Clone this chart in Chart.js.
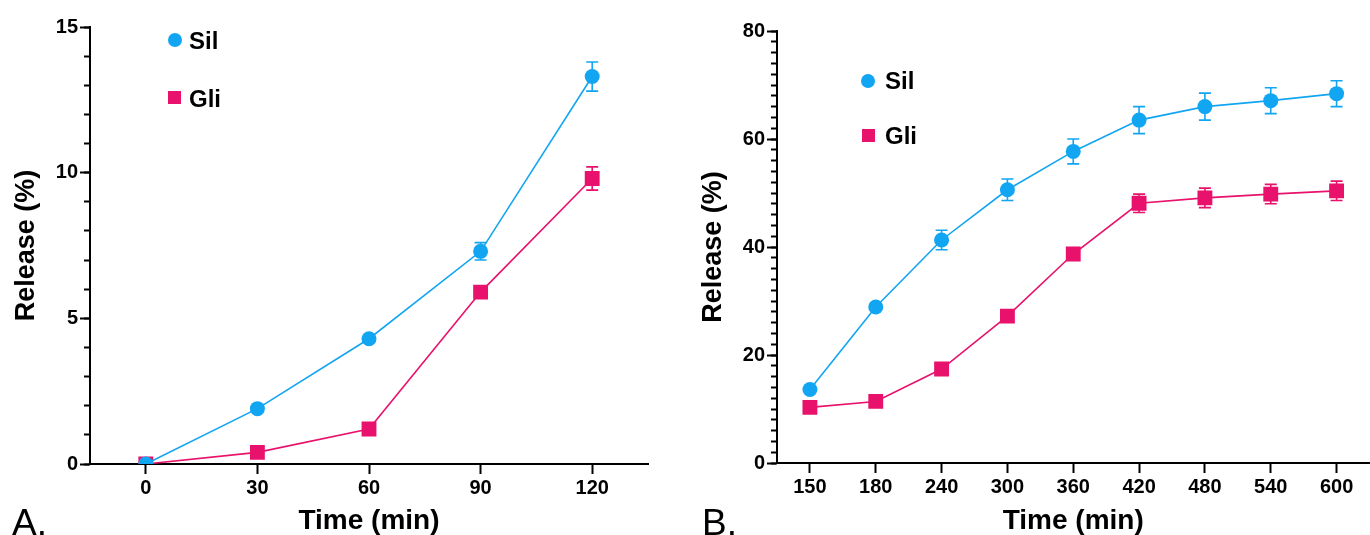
<!DOCTYPE html>
<html>
<head>
<meta charset="utf-8">
<script src="https://cdn.jsdelivr.net/npm/chart.js@4/dist/chart.umd.min.js"></script>
<style>
  body { margin: 0; width: 1370px; height: 535px; overflow: hidden; position: relative; background: #fff;
         font-family: 'Liberation Sans', Arial, sans-serif; }
  .panel { position: absolute; top: 0; height: 535px; width: 690px; }
  .lg { position: absolute; font-weight: bold; font-size: 24px; line-height: 24px; color: #000; }
  .mk { position: absolute; }
  .tag { position: absolute; font-size: 37px; line-height: 37px; color: #000; }
</style>
</head>
<body>
<div class="panel" style="left:0"><canvas id="chartA" width="690" height="535"></canvas></div>
<div class="panel" style="left:690px"><canvas id="chartB" width="690" height="535"></canvas></div>

<!-- legends -->
<div class="mk" style="left:168px;top:33px;width:14px;height:14px;border-radius:50%;background:#12a5f2"></div>
<div class="lg" style="left:189px;top:29px">Sil</div>
<div class="mk" style="left:168px;top:91px;width:13px;height:13px;background:#e8116b"></div>
<div class="lg" style="left:189px;top:87px">Gli</div>

<div class="mk" style="left:861px;top:74px;width:14px;height:14px;border-radius:50%;background:#12a5f2"></div>
<div class="lg" style="left:885px;top:69px">Sil</div>
<div class="mk" style="left:862px;top:129px;width:13px;height:13px;background:#e8116b"></div>
<div class="lg" style="left:885px;top:124px">Gli</div>

<div class="tag" style="left:12px;top:504px">A.</div>
<div class="tag" style="left:702px;top:504px">B.</div>

<script>
// ---- data ----
const timesA = ['0', '30', '60', '90', '120'];
const silA = [0, 1.9, 4.3, 7.3, 13.3];
const silAErr = [0, 0, 0, 0.3, 0.5];
const gliA = [0, 0.4, 1.2, 5.9, 9.8];
const gliAErr = [0, 0, 0, 0, 0.4];

const timesB = ['150', '180', '240', '300', '360', '420', '480', '540', '600'];
const silB = [13.6, 28.9, 41.3, 50.6, 57.7, 63.5, 66.0, 67.1, 68.4];
const silBErr = [0, 0.6, 1.8, 2.0, 2.3, 2.5, 2.5, 2.4, 2.4];
const gliB = [10.3, 11.4, 17.4, 27.2, 38.7, 48.1, 49.1, 49.8, 50.4];
const gliBErr = [0, 0, 0.6, 0.6, 1.0, 1.7, 1.8, 1.8, 1.8];

const BLUE = '#12a5f2';
const PINK = '#e8116b';
const FONT = "'Liberation Sans', Arial, sans-serif";

// vertical error bars, drawn under the markers
const errorBars = {
  id: 'errorBars',
  beforeDatasetsDraw(chart) {
    const { ctx, scales: { x, y } } = chart;
    chart.data.datasets.forEach(ds => {
      if (!ds.errors) return;
      ctx.save();
      ctx.strokeStyle = ds.borderColor;
      ctx.lineWidth = 1.6;
      ds.data.forEach((v, j) => {
        const e = ds.errors[j];
        if (!e) return;
        const px = x.getPixelForValue(j);
        const top = y.getPixelForValue(v + e);
        const bot = y.getPixelForValue(v - e);
        ctx.beginPath();
        ctx.moveTo(px, top); ctx.lineTo(px, bot);
        ctx.moveTo(px - 6, top); ctx.lineTo(px + 6, top);
        ctx.moveTo(px - 6, bot); ctx.lineTo(px + 6, bot);
        ctx.stroke();
      });
      ctx.restore();
    });
  }
};

function series(label, data, errors, color, style, radius) {
  return {
    label, data, errors,
    borderColor: color, backgroundColor: color,
    borderWidth: 1.6,
    pointStyle: style, pointRadius: radius,
    pointBorderWidth: 0, pointBackgroundColor: color,
    tension: 0
  };
}

function makeChart(id, labels, datasets, o) {
  return new Chart(document.getElementById(id), {
    type: 'line',
    data: { labels, datasets },
    options: {
      responsive: false,
      animation: false,
      layout: { padding: { left: 0, top: o.top, right: o.right, bottom: 0 } },
      plugins: { legend: { display: false }, tooltip: { enabled: false } },
      scales: {
        x: {
          type: 'category',
          offset: true,
          grid: { offset: false, drawOnChartArea: false, tickLength: 10, tickWidth: 2, tickColor: '#000' },
          border: { color: '#000', width: 2 },
          ticks: { color: '#000', padding: 2, maxRotation: 0, font: { family: FONT, size: 20, weight: 'bold' } },
          title: { display: true, text: 'Time (min)', color: '#000', padding: { top: 0, bottom: 0 },
                   font: { family: FONT, size: 28, weight: 'bold', lineHeight: 0.95 } },
          afterFit: s => { s.height = o.xh; }
        },
        y: {
          weight: 1,
          min: 0, max: o.max,
          grid: { drawOnChartArea: false, tickLength: 10, tickWidth: 2, tickColor: '#000' },
          border: { color: '#000', width: 2 },
          ticks: { stepSize: o.major, color: '#000', padding: 2, font: { family: FONT, size: 20, weight: 'bold' } },
          title: { display: true, text: 'Release (%)', color: '#000', padding: { top: o.tpad, bottom: 0 },
                   font: { family: FONT, size: 27, weight: 'bold', lineHeight: 1.2 } },
          afterFit: s => { s.width = o.yw; }
        },
        yMinor: {
          position: 'left',
          weight: 0,
          min: 0, max: o.max,
          grid: { drawOnChartArea: false, tickLength: 6, tickWidth: 2, tickColor: '#000' },
          border: { display: false },
          ticks: { stepSize: o.minor, display: false },
          afterFit: s => { s.width = 0; }
        }
      }
    },
    plugins: [errorBars]
  });
}

makeChart('chartA', timesA, [
  series('Sil', silA, silAErr, BLUE, 'circle', 7.5),
  series('Gli', gliA, gliAErr, PINK, 'rect', 10.5)
], { top: 27, right: 42, xh: 71, yw: 90, tpad: 10, max: 15, major: 5, minor: 1 });

makeChart('chartB', timesB, [
  series('Sil', silB, silBErr, BLUE, 'circle', 7.5),
  series('Gli', gliB, gliBErr, PINK, 'rect', 10.5)
], { top: 31, right: 1, xh: 72, yw: 87, tpad: 7, max: 80, major: 20, minor: 2 });
</script>
</body>
</html>
